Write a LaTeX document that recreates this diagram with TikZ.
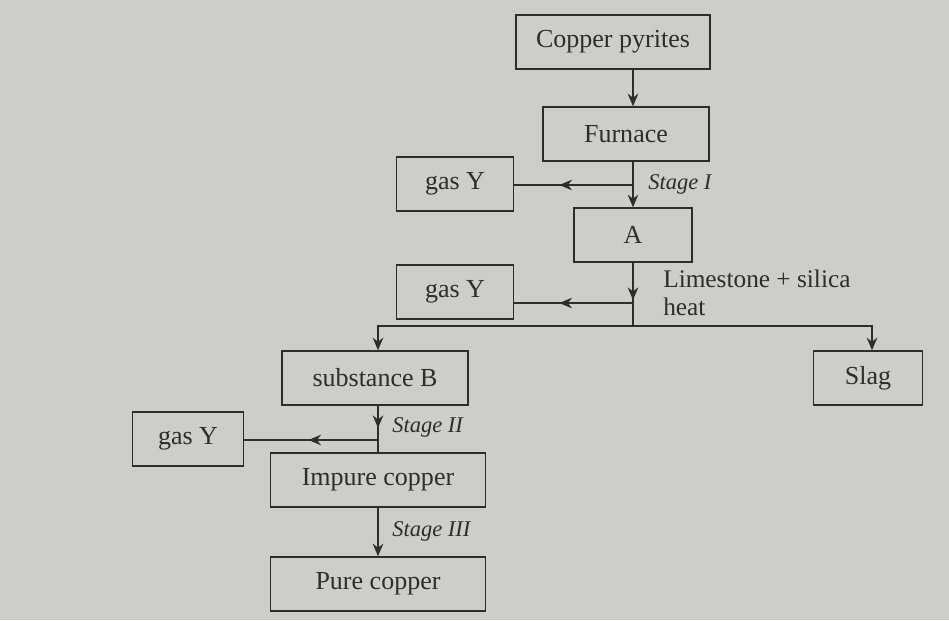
\documentclass[tikz,border=0pt]{standalone}
\usepackage{fontspec}
\setmainfont{Liberation Serif}
\usetikzlibrary{arrows.meta, positioning, calc}
\definecolor{paper}{RGB}{206,205,199}
\definecolor{ink}{RGB}{45,45,45}

\begin{document}
\begin{tikzpicture}[x=0.025cm, y=-0.025cm, every node/.style={text=ink},
    box/.style={draw=ink, line width=1pt, minimum height=1.35cm, inner sep=0pt, font=\fontsize{18.5}{22}\selectfont},
    flow/.style={draw=ink, line width=0.9pt},
    arr/.style={flow, -{Stealth[length=9pt, width=7.5pt]}},
    stage/.style={anchor=west, inner sep=0pt, font=\fontsize{16}{19}\selectfont\itshape}]
    \fill[paper] (0,0) rectangle (949,620);
    \useasboundingbox (0,0) rectangle (949,620);
    \node[box, minimum width=4.85cm] (pyr) at (613,42) {Copper pyrites};
    \node[box, minimum width=4.15cm] (furn) at (626,134) {Furnace};
    \node[box, minimum width=2.925cm] (gasA) at (455,184) {gas Y};
    \node[box, minimum width=2.95cm] (A) at (633,235) {A};
    \node[box, minimum width=2.925cm] (gasB) at (455,292) {gas Y};
    \node[box, minimum width=4.65cm] (subB) at (375,378) {substance B};
    \node[box, minimum width=2.725cm] (slag) at (868,378) {Slag};
    \node[box, minimum width=2.775cm] (gasC) at (188,439) {gas Y};
    \node[box, minimum width=5.375cm] (imp) at (378,480) {Impure copper};
    \node[box, minimum width=5.375cm] (pure) at (378,584) {Pure copper};
    \coordinate (tapA) at (633,185);
    \coordinate (headA) at (633,300);
    \coordinate (tapB) at (633,303);
    \coordinate (split) at (633,326);
    \coordinate (headB) at (378,428);
    \coordinate (tapC) at (378,440);
    \draw[arr] (pyr.south -| A) -- (furn.north -| A);
    \draw[arr] (furn.south -| A) -- (A.north);
    \draw[flow] (tapA) -- (gasA.east |- tapA);
    \draw[arr] (tapA) -- ($(tapA)!0.62!(gasA.east |- tapA)$);
    \node[stage] (st1) at (648,184) {Stage I};
    \draw[flow] (A.south) -- (split);
    \draw[arr] (A.south) -- (headA);
    \draw[flow] (tapB) -- (gasB.east |- tapB);
    \draw[arr] (tapB) -- ($(tapB)!0.62!(gasB.east |- tapB)$);
    \node[anchor=north west, align=left, inner sep=0pt, font=\fontsize{18}{20}\selectfont] (lime) at (663,270) {Limestone + silica\\heat};
    \draw[arr] (split) -| (subB.north -| imp);
    \draw[arr] (split) -| ($(slag.north)+(4,0)$);
    \draw[flow] (subB.south -| imp) -- (imp.north);
    \draw[arr] (subB.south -| imp) -- (headB);
    \draw[flow] (tapC) -- (gasC.east |- tapC);
    \draw[arr] (tapC) -- ($(tapC)!0.52!(gasC.east |- tapC)$);
    \node[stage] (st2) at (392,427) {Stage II};
    \draw[arr] (imp.south) -- (pure.north);
    \node[stage] (st3) at (392,531) {Stage III};
\end{tikzpicture}
\end{document}
